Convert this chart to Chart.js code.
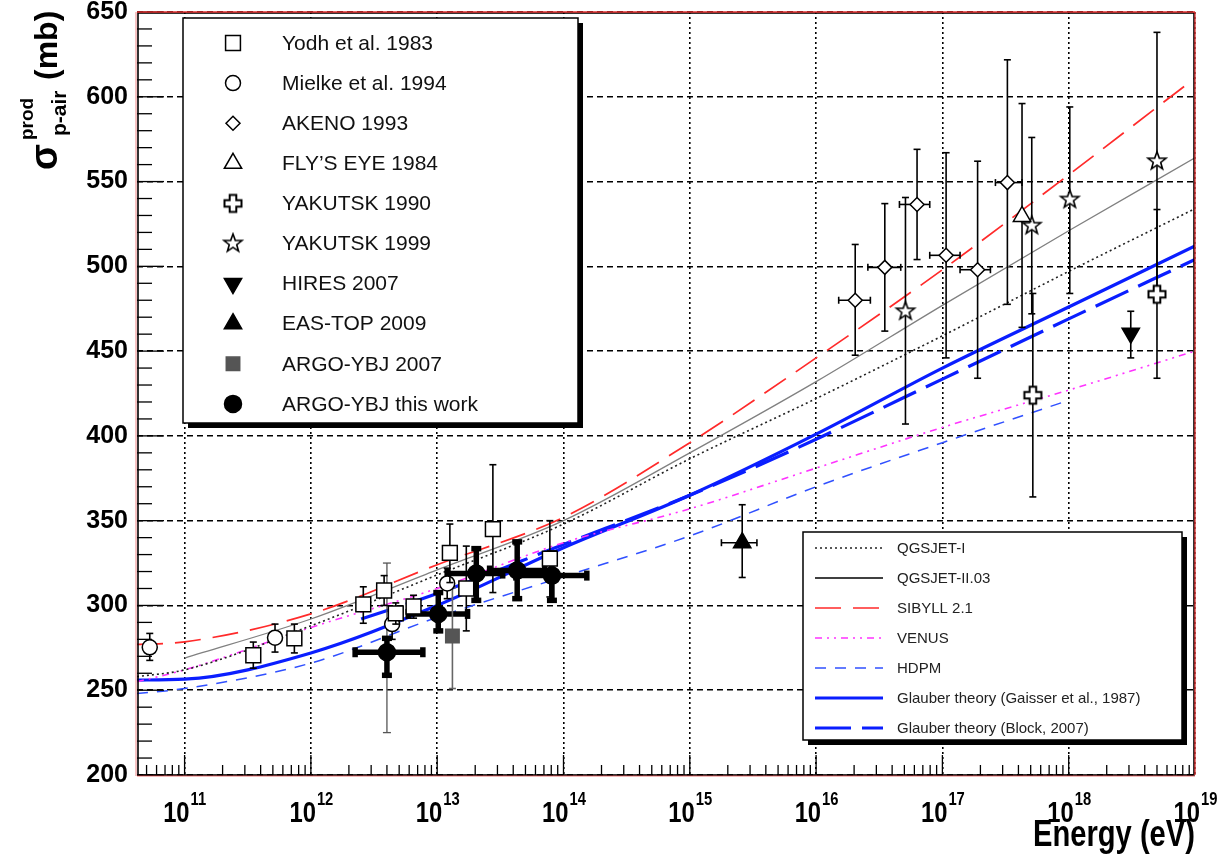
<!DOCTYPE html>
<html>
<head>
<meta charset="utf-8">
<style>
  html, body { margin: 0; padding: 0; background: #fff; }
</style>
<script src="https://cdn.jsdelivr.net/npm/chart.js@4.4.1/dist/chart.umd.min.js"></script>
</head>
<body>
<canvas id="c" width="1224" height="863"></canvas>
<script>
// energies in eV, sigma_prod(p-air) in mb
const xMin = 4.2e10, xMax = 1e19;
const decadeExps = [11, 12, 13, 14, 15, 16, 17, 18, 19];

const yodhE = [3.5e11, 7.4e11, 2.6e12, 3.8e12, 4.7e12, 6.5e12, 1.26e13, 1.7e13, 2.76e13, 7.8e13];
const yodhS = [270.6, 280.6, 300.6, 308.8, 295.3, 299.4, 331, 310, 345, 327.6];
const yodhLo = [263, 272, 289.5, 300, 289, 292.5, 313.5, 285, 307.6, 305];
const yodhHi = [278.4, 289, 311, 317.6, 301.5, 306, 348, 335, 383, 350];

const mielkeE = [5.3e10, 5.2e11, 4.4e12, 1.2e13];
const mielkeS = [275.3, 281, 289, 313];
const mielkeLo = [267.6, 272.5, 280, 304];
const mielkeHi = [283.5, 289, 298, 322];

const akenoE = [2.04e16, 3.5e16, 6.3e16, 1.07e17, 1.9e17, 3.27e17];
const akenoS = [480, 499.4, 536.5, 506.5, 498, 549.4];
const akenoLo = [447.6, 461.8, 504, 446, 434, 477.6];
const akenoHi = [512.9, 537, 569, 567, 562, 621.8];
const akenoELo = [1.51e16, 2.57e16, 4.57e16, 7.94e16, 1.38e17, 2.63e17];
const akenoEHi = [2.69e16, 4.68e16, 7.94e16, 1.38e17, 2.4e17, 4.27e17];

const flyE = [4.27e17];
const flyS = [529.4];
const flyLo = [464];
const flyHi = [596];

const yak90E = [5.2e17, 5e18];
const yak90S = [424, 483.5];
const yak90Lo = [364, 434];
const yak90Hi = [484, 533.5];

const yak99E = [5.1e16, 5.1e17, 1.02e18, 5e18];
const yak99S = [473.5, 524, 539.4, 562];
const yak99Lo = [407, 472, 484, 486];
const yak99Hi = [540.6, 576, 594, 638];

const hiresE = [3.1e18];
const hiresS = [460.6];
const hiresLo = [446];
const hiresHi = [473.5];

const easE = [2.6e15];
const easS = [337];
const easLo = [316.5];
const easHi = [359.4];
const easELo = [1.78e15];
const easEHi = [3.4e15];

const argo07E = [1.32e13];
const argo07S = [282];
const argo07Lo = [251];
const argo07Hi = [310.6];

const argoE = [4.0e12, 1.02e13, 2.04e13, 4.3e13, 8.1e13];
const argoS = [272.4, 295, 318.8, 320.6, 317.6];
const argoLo = [258.8, 285, 303, 304, 303];
const argoHi = [280.6, 307.6, 333.5, 337.5, 331];
const argoELo = [2.24e12, 5.9e12, 1.2e13, 2.6e13, 4.2e13];
const argoEHi = [7.7e12, 1.74e13, 3.3e13, 7.1e13, 1.53e14];
const argoSysLo = [225, null, null, null, null];
const argoSysHi = [325, null, null, null, null];

// model curves
const modelE = [4.2e10, 1e11, 1e12, 1e13, 1e14, 1e15, 1e16, 1e17, 1e18, 1e19];
const qgsjet1 = [258, 262, 288, 318, 348, 386.5, 422, 459, 497, 534];
const qgsjet2 = [null, 269, 292, 321, 350, 390, 432, 477, 521, 564];
const sibyll = [277, 278.5, 295, 324, 352, 396, 446, 498, 554, 611];
const venus = [255, 262, 287, 310, 337, 357, 381, 405, 427, 450];
const hdpm = [248, 251, 266, 293, 317, 341, 370, 396, 421, null];
const gaisser = [256, 256.5, 272, 300, 334, 365, 401, 440, 476, 512];
const blockE = [2.5e12, 1e13, 1e14, 1e15, 1e16, 1e17, 1e18, 1e19];
const block = [292, 307, 336, 365, 398, 433.5, 469, 504];

const SANS = "'Liberation Sans', Arial, Helvetica, sans-serif";

function pts(xs, ys) {
    return xs.map((v, i) => ({ x: v, y: ys[i] })).filter(p => p.y != null);
}

function markerCanvas(size, draw) {
    const c = document.createElement('canvas');
    c.width = c.height = size;
    const g = c.getContext('2d');
    g.translate(size / 2, size / 2);
    draw(g);
    return c;
}

const starMarker = markerCanvas(24, g => {
    g.beginPath();
    for (let k = 0; k < 10; k++) {
        const r = k % 2 ? 3.9 : 9.5, a = -Math.PI / 2 + k * Math.PI / 5;
        g.lineTo(r * Math.cos(a), r * Math.sin(a));
    }
    g.closePath();
    g.fillStyle = '#fff'; g.fill();
    g.lineWidth = 1.6; g.strokeStyle = '#000'; g.stroke();
});

const plusMarker = markerCanvas(24, g => {
    const a = 3.3, b = 8.5;
    g.beginPath();
    g.moveTo(-a, -b); g.lineTo(a, -b); g.lineTo(a, -a); g.lineTo(b, -a); g.lineTo(b, a); g.lineTo(a, a);
    g.lineTo(a, b); g.lineTo(-a, b); g.lineTo(-a, a); g.lineTo(-b, a); g.lineTo(-b, -a); g.lineTo(-a, -a);
    g.closePath();
    g.fillStyle = '#fff'; g.fill();
    g.lineWidth = 2; g.strokeStyle = '#000'; g.stroke();
});

function markers(label, xs, ys, lo, hi, style, extra) {
    return Object.assign({
        label, data: pts(xs, ys), yLow: lo, yHigh: hi, group: 1, order: 0, showLine: false,
        pointStyle: style, pointRadius: 8, pointBackgroundColor: '#fff', pointBorderColor: '#000',
        pointBorderWidth: 1.5
    }, extra || {});
}

function curve(label, xs, ys, color, width, dash, extra) {
    return Object.assign({
        label, data: pts(xs, ys), group: 2, order: 1, showLine: true, pointRadius: 0,
        borderColor: color, borderWidth: width, borderDash: dash, cubicInterpolationMode: 'monotone'
    }, extra || {});
}

const datasets = [
    markers('Yodh et al. 1983', yodhE, yodhS, yodhLo, yodhHi, 'rect', { pointRadius: 10.5 }),
    markers('Mielke et al. 1994', mielkeE, mielkeS, mielkeLo, mielkeHi, 'circle', { pointRadius: 7.5 }),
    markers('AKENO 1993', akenoE, akenoS, akenoLo, akenoHi, 'rectRot', { pointRadius: 7, xLow: akenoELo, xHigh: akenoEHi }),
    markers('FLY\u2019S EYE 1984', flyE, flyS, flyLo, flyHi, 'triangle', { pointRadius: 10 }),
    markers('YAKUTSK 1990', yak90E, yak90S, yak90Lo, yak90Hi, plusMarker),
    markers('YAKUTSK 1999', yak99E, yak99S, yak99Lo, yak99Hi, starMarker),
    markers('HIRES 2007', hiresE, hiresS, hiresLo, hiresHi, 'triangle', { pointRadius: 10, rotation: 180, pointBackgroundColor: '#000' }),
    markers('EAS-TOP 2009', easE, easS, easLo, easHi, 'triangle', { pointRadius: 10, pointBackgroundColor: '#000', xLow: easELo, xHigh: easEHi }),
    markers('ARGO-YBJ 2007', argo07E, argo07S, argo07Lo, argo07Hi, 'rect', { pointRadius: 9.5, pointBackgroundColor: '#555', pointBorderColor: '#555', errColor: '#666' }),
    markers('ARGO-YBJ this work', argoE, argoS, argoLo, argoHi, 'circle', {
        pointRadius: 8.5, pointBackgroundColor: '#000', xLow: argoELo, xHigh: argoEHi,
        sysLow: argoSysLo, sysHigh: argoSysHi, errWidth: 5.5, capSize: 5
    }),
    curve('QGSJET-I', modelE, qgsjet1, '#222', 1.6, [2, 3]),
    curve('QGSJET-II.03', modelE, qgsjet2, '#808080', 1.3, [], { legendColor: '#000' }),
    curve('SIBYLL 2.1', modelE, sibyll, '#ff2a2a', 1.7, [26, 12]),
    curve('VENUS', modelE, venus, '#ff33ff', 1.6, [7, 5, 2, 5, 2, 5]),
    curve('HDPM', modelE, hdpm, '#3050ff', 1.5, [11, 9]),
    curve('Glauber theory (Gaisser et al., 1987)', modelE, gaisser, '#0a1eff', 3.2, []),
    curve('Glauber theory (Block, 2007)', blockE, block, '#0a1eff', 3.2, [36, 11])
];

function seg(ctx, x1, y1, x2, y2) {
    ctx.beginPath(); ctx.moveTo(x1, y1); ctx.lineTo(x2, y2); ctx.stroke();
}

// condensed text: squeeze horizontally around the anchor
function narrowText(ctx, text, tx, ty, align, sx) {
    ctx.save();
    ctx.translate(tx, ty);
    ctx.scale(sx, 1);
    ctx.textAlign = align;
    ctx.fillText(text, 0, 0);
    ctx.restore();
}

const errorBars = {
    id: 'errorBars',
    beforeDatasetDraw(chart, args) {
        const ds = chart.data.datasets[args.index];
        if (!ds.yLow) return;
        const { ctx, scales: { x, y } } = chart;
        const cap = ds.capSize || 3.5;
        ctx.save();
        ds.data.forEach((p, i) => {
            const px = x.getPixelForValue(p.x), py = y.getPixelForValue(p.y);
            if (ds.sysLow && ds.sysLow[i] != null) {
                ctx.strokeStyle = '#555'; ctx.lineWidth = 1.3;
                const s1 = y.getPixelForValue(ds.sysLow[i]), s2 = y.getPixelForValue(ds.sysHigh[i]);
                seg(ctx, px, s1, px, s2);
                seg(ctx, px - 4, s1, px + 4, s1);
                seg(ctx, px - 4, s2, px + 4, s2);
            }
            ctx.strokeStyle = ds.errColor || '#000';
            ctx.lineWidth = ds.errWidth || 1.6;
            const y1 = y.getPixelForValue(ds.yLow[i]), y2 = y.getPixelForValue(ds.yHigh[i]);
            seg(ctx, px, y1, px, y2);
            seg(ctx, px - cap, y1, px + cap, y1);
            seg(ctx, px - cap, y2, px + cap, y2);
            if (ds.xLow) {
                const x1 = x.getPixelForValue(ds.xLow[i]), x2 = x.getPixelForValue(ds.xHigh[i]);
                seg(ctx, x1, py, x2, py);
                seg(ctx, x1, py - cap, x1, py + cap);
                seg(ctx, x2, py - cap, x2, py + cap);
            }
        });
        ctx.restore();
    }
};

function drawMarker(ctx, ds, cx, cy) {
    ctx.save();
    ctx.fillStyle = ds.pointBackgroundColor;
    ctx.strokeStyle = ds.pointBorderColor;
    ctx.lineWidth = ds.pointBorderWidth;
    Chart.helpers.drawPoint(ctx, {
        pointStyle: ds.pointStyle, radius: ds.pointRadius, rotation: ds.rotation || 0,
        borderWidth: ds.pointBorderWidth
    }, cx, cy);
    ctx.restore();
}

function box(ctx, bx, by, bw, bh) {
    ctx.fillStyle = '#000';
    ctx.fillRect(bx + 5, by + 5, bw, bh);
    ctx.fillStyle = '#fff';
    ctx.fillRect(bx, by, bw, bh);
    ctx.strokeStyle = '#000';
    ctx.lineWidth = 1.5;
    ctx.strokeRect(bx, by, bw, bh);
}

const decor = {
    id: 'decor',
    afterDraw(chart) {
        const { ctx, chartArea: a, scales: { x, y } } = chart;
        ctx.save();
        ctx.strokeStyle = '#000';
        ctx.lineWidth = 1.3;
        ctx.setLineDash([]);

        // y ticks, pointing into the plot
        for (let v = 200; v <= 650; v += 10) {
            const py = y.getPixelForValue(v);
            seg(ctx, a.left, py, a.left + (v % 50 === 0 ? 27 : 15), py);
        }
        // x ticks
        for (let e = 10; e <= 18; e++) {
            for (let m = 1; m <= 9; m++) {
                const v = m * Math.pow(10, e);
                if (v < xMin || v > xMax) continue;
                const px = x.getPixelForValue(v);
                seg(ctx, px, a.bottom, px, a.bottom - (m === 1 ? 20 : 10));
            }
        }

        // frame
        ctx.lineWidth = 1.6;
        ctx.strokeRect(a.left + 1, a.top + 1, a.right - a.left - 2, a.bottom - a.top - 1);
        ctx.strokeStyle = '#e23030';
        ctx.lineWidth = 1.3;
        seg(ctx, a.left, a.top, a.right, a.top);
        seg(ctx, a.right, a.top, a.right, a.bottom);
        ctx.strokeStyle = 'rgba(226,48,48,0.45)';
        seg(ctx, a.left - 1, a.top, a.left - 1, a.bottom + 1);
        seg(ctx, a.left, a.bottom + 1, a.right, a.bottom + 1);

        // x tick labels, condensed like the original
        ctx.fillStyle = '#000';
        ctx.textBaseline = 'alphabetic';
        decadeExps.forEach(e => {
            const px = x.getPixelForValue(Math.pow(10, e));
            ctx.font = `bold 29px ${SANS}`;
            narrowText(ctx, '10', px + 5, 822, 'right', 0.82);
            ctx.font = `bold 18px ${SANS}`;
            narrowText(ctx, String(e), px + 6, 805, 'left', 0.82);
        });

        // axis titles
        ctx.font = `bold 36px ${SANS}`;
        narrowText(ctx, 'Energy (eV)', a.right, 846, 'right', 0.81);

        ctx.save();
        ctx.translate(57, 172);
        ctx.rotate(-Math.PI / 2);
        ctx.textAlign = 'left';
        ctx.font = `bold 38px ${SANS}`;
        ctx.fillText('\u03c3', 2, 0);
        ctx.font = `bold 19px ${SANS}`;
        ctx.fillText('prod', 32, -24);
        ctx.font = `bold 21px ${SANS}`;
        ctx.fillText('p-air', 36, 9);
        ctx.font = `bold 32px ${SANS}`;
        ctx.fillText('(mb)', 92, 0);
        ctx.restore();

        // legend for the data sets
        const sets = chart.data.datasets;
        box(ctx, 183, 18, 395, 405);
        ctx.font = `21px ${SANS}`;
        ctx.textAlign = 'left';
        ctx.textBaseline = 'middle';
        sets.filter(d => d.group === 1).forEach((d, i) => {
            const ly = 43 + i * 40.1;
            drawMarker(ctx, d, 233, ly);
            ctx.fillStyle = '#111';
            ctx.fillText(d.label, 282, ly + 1);
        });

        // legend for the models
        box(ctx, 803, 532, 379, 208);
        ctx.font = `15px ${SANS}`;
        sets.filter(d => d.group === 2).forEach((d, i) => {
            const ly = 548 + i * 30;
            ctx.strokeStyle = d.legendColor || d.borderColor;
            ctx.lineWidth = d.borderWidth;
            ctx.setLineDash(d.borderDash);
            seg(ctx, 815, ly, 883, ly);
            ctx.setLineDash([]);
            ctx.fillStyle = '#222';
            ctx.fillText(d.label, 897, ly + 1);
        });
        ctx.restore();
    }
};

new Chart(document.getElementById('c'), {
    type: 'scatter',
    data: { datasets },
    options: {
        responsive: false,
        animation: false,
        events: [],
        layout: { padding: { top: 11, right: 29, left: 0, bottom: 0 } },
        plugins: {
            legend: { display: false },
            tooltip: { enabled: false }
        },
        scales: {
            x: {
                type: 'logarithmic',
                min: xMin,
                max: xMax,
                afterBuildTicks: s => { s.ticks = decadeExps.map(e => ({ value: Math.pow(10, e) })); },
                afterFit: s => { s.height = 88; s.paddingLeft = 0; s.paddingRight = 0; },
                ticks: { display: false },
                grid: { color: '#000', lineWidth: 1.6, drawTicks: false },
                border: { display: false, dash: [2, 3] }
            },
            y: {
                min: 200,
                max: 650,
                afterFit: s => { s.width = 137; s.paddingTop = 0; s.paddingBottom = 0; },
                ticks: {
                    stepSize: 50,
                    color: '#000',
                    padding: 9,
                    font: { family: SANS, size: 25, weight: 'bold' }
                },
                grid: { color: '#000', lineWidth: 1.6, drawTicks: false },
                border: { display: false, dash: [6, 4] }
            }
        }
    },
    plugins: [errorBars, decor]
});
</script>
</body>
</html>
